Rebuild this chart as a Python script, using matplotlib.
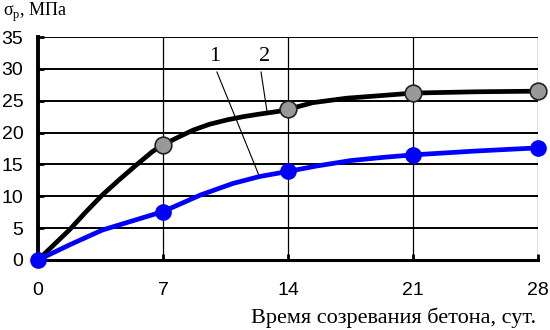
import matplotlib
matplotlib.use("AGG")
from matplotlib import pyplot as plt

# сроки испытаний, сут.
days = [0, 7, 14, 21, 28]
# кривая 1 (синяя) - значения в точках
strength1 = [0, 7.6, 13.9, 16.5, 17.6]
# кривая 2 (чёрная) - значения в точках
strength2 = [0, 18.1, 23.65, 26.2, 26.5]

curve1_days = [0, 1.75, 3.6, 7, 9.1, 10.9, 12.4, 14, 15.6, 17.5, 19.3, 21, 24.5, 28]
curve1_vals = [0, 2.35, 4.7, 7.6, 10.2, 12.0, 13.1, 13.9, 14.75, 15.6, 16.1, 16.5, 17.1, 17.6]
curve2_days = [0, 1.75, 2.7, 3.6, 4.55, 5.5, 6.4, 7, 7.95, 8.7, 9.6, 10.6, 11.5,
               12.4, 13.4, 14, 15.4, 17.3, 19.2, 21, 24.5, 28]
curve2_vals = [0, 4.7, 7.6, 10.2, 12.6, 14.9, 17.0, 18.1, 19.4, 20.4, 21.3, 22.0, 22.5,
               22.9, 23.3, 23.65, 24.7, 25.4, 25.8, 26.2, 26.4, 26.5]

xticks = [0, 7, 14, 21, 28]
yticks = [0, 5, 10, 15, 20, 25, 30, 35]

fig = plt.figure(figsize=(5.5, 3.3), dpi=100)
ax = fig.add_axes([38 / 550, 70 / 330, 500 / 550, 223 / 330])

ax.set_xlim(0, 28)
ax.set_ylim(0, 35)

# сетка
for y in yticks[1:]:
    ax.axhline(y, color="black", lw=1.4, zorder=1)
for x in xticks[1:]:
    ax.axvline(x, color="black", lw=0.9, zorder=1)

ax.plot(curve2_days, curve2_vals, color="black", lw=3.4, zorder=3,
        clip_on=False, solid_joinstyle="round")
ax.plot(days[1:], strength2[1:], "o", ms=12, mfc="#999999", mec="#222222",
        mew=1.2, zorder=4, clip_on=False)

ax.plot(curve1_days, curve1_vals, color="#0000ff", lw=3.4, zorder=5,
        clip_on=False, solid_joinstyle="round")
ax.plot(days, strength1, "o", ms=11, color="#0000ff", zorder=6, clip_on=False)

# выноски
ax.plot([10.02, 12.43], [29.5, 12.9], color="black", lw=0.8, zorder=2)
ax.plot([12.49, 12.82], [29.5, 23.4], color="black", lw=0.8, zorder=2)
ax.text(9.9, 31.9, "1", family="Liberation Serif", fontsize=16,
        ha="center", va="center")
ax.text(12.7, 31.9, "2", family="Liberation Serif", fontsize=16,
        ha="center", va="center")

for s in ["top", "right"]:
    ax.spines[s].set_visible(False)
ax.spines["left"].set_linewidth(2.8)
ax.spines["bottom"].set_linewidth(2.2)

ax.set_xticks(xticks)
ax.set_yticks(yticks)
ax.tick_params(axis="both", direction="in", length=4, width=2, labelsize=14)
ax.tick_params(axis="y", pad=10.5)
ax.tick_params(axis="x", pad=16)
for lab in ax.get_xticklabels() + ax.get_yticklabels():
    lab.set_family("Liberation Sans")

fig.text(3 / 550, 1 - 12 / 330, r"σ$_\mathregular{p}$, МПа", family="Liberation Serif",
         fontsize=13, ha="left", va="center")
fig.text(536 / 550, 1 - 318 / 330, "Время созревания бетона, сут.",
         family="Liberation Serif", fontsize=16, ha="right", va="center")

plt.savefig("out.png")
